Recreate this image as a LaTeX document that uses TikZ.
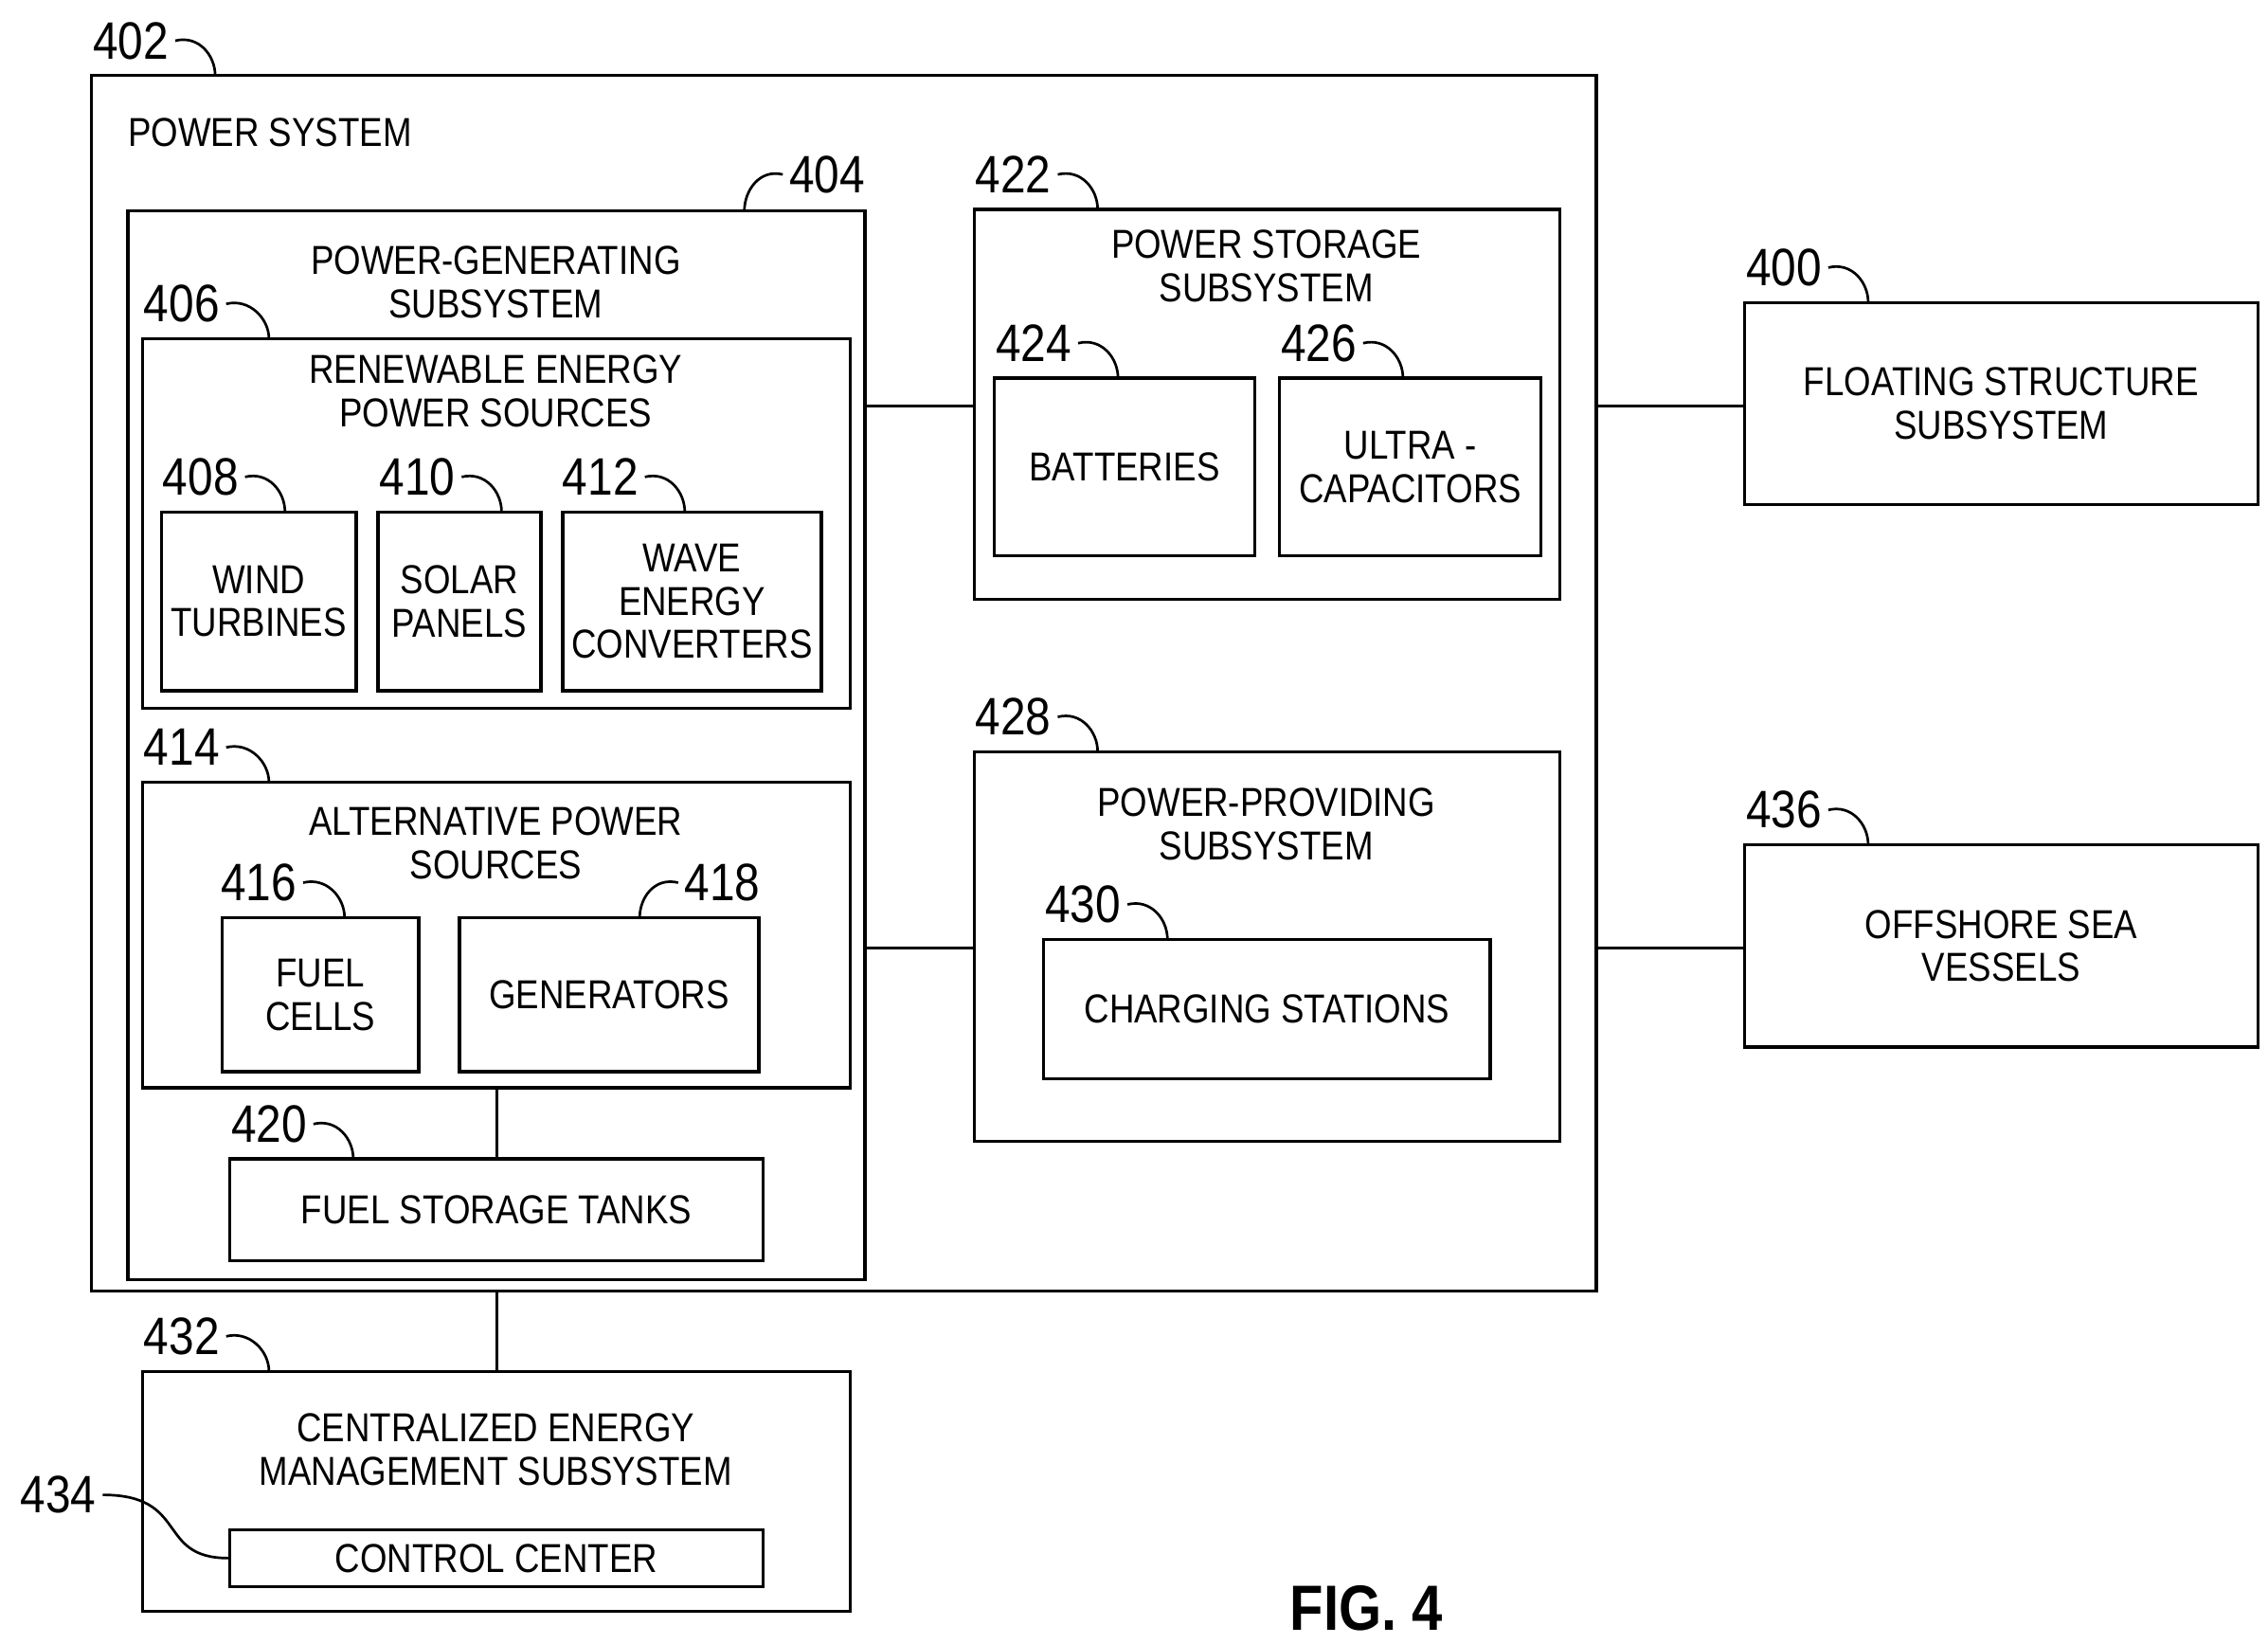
\documentclass[tikz,border=0pt]{standalone}
\usepackage{fontspec}
\setmainfont[FakeStretch=0.86]{Liberation Sans}
\usetikzlibrary{fit}

\begin{document}
\begin{tikzpicture}[x=0.01cm,y=-0.01cm,line width=0.6pt,
                    box/.style={draw,inner sep=0pt},
                    txt/.style={align=center,font=\fontsize{7.9}{8.5}\selectfont,inner sep=0pt},
                    num/.style={font=\fontsize{10.3}{12}\selectfont,inner sep=1pt},
                    lead/.style={line width=0.5pt}]
  \useasboundingbox (0,0) rectangle (1560,1130);
  % boxes
  \node[box,fit={(63,52)(1098,888)}] (ps) {};
  \node[box,fit={(88,145)(595,880)}] (gen) {};
  \node[box,fit={(98,233)(585,487)}] (ren) {};
  \node[box,fit={(111,352)(245,475)}] (wind) {};
  \node[box,fit={(260,352)(372,475)}] (solar) {};
  \node[box,fit={(387,352)(565,475)}] (wave) {};
  \node[box,fit={(98,538)(585,748)}] (alt) {};
  \node[box,fit={(153,631)(288,737)}] (fuel) {};
  \node[box,fit={(316,631)(522,737)}] (gens) {};
  \node[box,fit={(158,797)(525,867)}] (tanks) {};
  \node[box,fit={(670,144)(1073,412)}] (store) {};
  \node[box,fit={(684,260)(863,382)}] (batt) {};
  \node[box,fit={(880,260)(1060,382)}] (ucap) {};
  \node[box,fit={(670,517)(1073,785)}] (prov) {};
  \node[box,fit={(718,646)(1025,742)}] (charge) {};
  \node[box,fit={(1200,208)(1553,347)}] (float) {};
  \node[box,fit={(1200,581)(1553,720)}] (vessel) {};
  \node[box,fit={(98,943)(585,1108)}] (cems) {};
  \node[box,fit={(158,1052)(525,1091)}] (ctrl) {};
  % texts
  \node[txt,anchor=west] (tps) at (87,91) {POWER SYSTEM};
  \node[txt] (tgen) at (341,194) {POWER-GENERATING\\SUBSYSTEM};
  \node[txt] (tren) at (341,269) {RENEWABLE ENERGY\\POWER SOURCES};
  \node[txt] (twind) at (wind) {WIND\\TURBINES};
  \node[txt] (tsolar) at (solar) {SOLAR\\PANELS};
  \node[txt] (twave) at (wave) {WAVE\\ENERGY\\CONVERTERS};
  \node[txt] (talt) at (341,580) {ALTERNATIVE POWER\\SOURCES};
  \node[txt] (tfuel) at (fuel) {FUEL\\CELLS};
  \node[txt] (tgens) at (gens) {GENERATORS};
  \node[txt] (ttanks) at (tanks) {FUEL STORAGE TANKS};
  \node[txt] (tstore) at (871,183) {POWER STORAGE\\SUBSYSTEM};
  \node[txt] (tbatt) at (batt) {BATTERIES};
  \node[txt] (tucap) at (ucap) {ULTRA -\\CAPACITORS};
  \node[txt] (tprov) at (871,567) {POWER-PROVIDING\\SUBSYSTEM};
  \node[txt] (tcharge) at (charge) {CHARGING STATIONS};
  \node[txt] (tfloat) at (float) {FLOATING STRUCTURE\\SUBSYSTEM};
  \node[txt] (tvessel) at (vessel) {OFFSHORE SEA\\VESSELS};
  \node[txt] (tcems) at (341,997) {CENTRALIZED ENERGY\\MANAGEMENT SUBSYSTEM};
  \node[txt] (tctrl) at (ctrl) {CONTROL CENTER};
  \node[font=\fontsize{12.5}{14}\selectfont\bfseries] (fig) at (940,1106) {FIG. 4};
  % connectors
  \draw (gen.east |- 0,279) -- (store.west |- 0,279);
  \draw (ps.east |- 0,279) -- (float.west |- 0,279);
  \draw (gen.east |- 0,652) -- (prov.west |- 0,652);
  \draw (ps.east |- 0,652) -- (vessel.west |- 0,652);
  \draw (alt.south -| 342,0) -- (tanks.north -| 342,0);
  \draw (ps.south -| 342,0) -- (cems.north -| 342,0);
  % reference numerals
  \foreach \n/\x/\y/\tx/\ty in {402/90/28/148/52, 406/125/209/185/233, 408/138/328/196/352,
      410/287/328/345/352, 412/413/328/471/352, 414/125/514/185/538, 416/178/607/237/631,
      420/185/773/243/797, 422/697/120/755/144, 424/711/236/769/260, 426/907/236/965/260,
      428/697/493/755/517, 430/745/622/803/646, 400/1227/184/1285/208, 436/1227/557/1285/581,
      432/125/919/185/943}{
    \node[num] (n\n) at (\x,\y) {\n};
    \draw[lead] (n\n.east) .. controls +(16,-4) and +(0,-14) .. (\tx,\ty);
  }
  \node[num] (n404) at (569,120) {404};
  \draw[lead] (n404.west) .. controls +(-16,-4) and +(0,-14) .. (512,145);
  \node[num] (n418) at (497,607) {418};
  \draw[lead] (n418.west) .. controls +(-16,-4) and +(0,-14) .. (440,631);
  \node[num] (n434) at (40,1028) {434};
  \draw[lead] (n434.east) .. controls +(60,0) and +(-50,0) .. (ctrl.west);
\end{tikzpicture}
\end{document}
